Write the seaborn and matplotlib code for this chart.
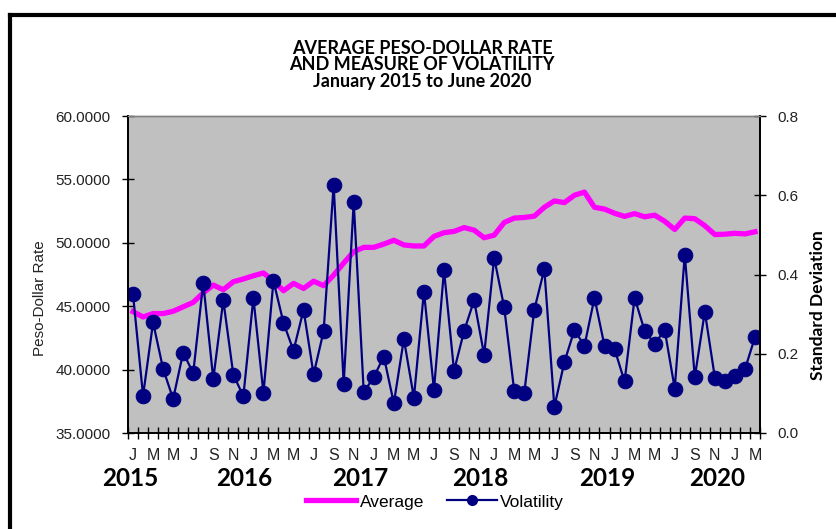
import numpy as np
import pandas as pd
import seaborn as sb
import matplotlib.pyplot as plt
from matplotlib.lines import Line2D
from matplotlib.ticker import FixedLocator, FuncFormatter

# Monthly data, January 2015 - March 2020
average = [44.57, 44.15, 44.42, 44.42, 44.60, 44.95, 45.30, 46.05, 46.67, 46.30,
           46.93, 47.15, 47.40, 47.62, 47.00, 46.22, 46.80, 46.40, 46.97, 46.62,
           47.45, 48.40, 49.30, 49.64, 49.64, 49.90, 50.20, 49.83, 49.75, 49.75,
           50.50, 50.80, 50.90, 51.20, 51.00, 50.40, 50.60, 51.60, 51.95, 52.00,
           52.10, 52.80, 53.30, 53.17, 53.75, 54.00, 52.80, 52.66, 52.33, 52.08,
           52.30, 52.05, 52.18, 51.70, 51.05, 51.95, 51.90, 51.35, 50.65, 50.68,
           50.75, 50.70, 50.87]
volatility = [0.350, 0.094, 0.279, 0.162, 0.086, 0.203, 0.151, 0.379, 0.136, 0.335,
              0.147, 0.093, 0.341, 0.101, 0.384, 0.278, 0.208, 0.311, 0.148, 0.257,
              0.626, 0.124, 0.583, 0.103, 0.141, 0.193, 0.075, 0.237, 0.089, 0.357,
              0.109, 0.411, 0.157, 0.257, 0.335, 0.197, 0.442, 0.317, 0.106, 0.101,
              0.311, 0.413, 0.066, 0.179, 0.260, 0.220, 0.341, 0.220, 0.212, 0.130,
              0.341, 0.258, 0.225, 0.260, 0.112, 0.450, 0.141, 0.306, 0.140, 0.132,
              0.143, 0.161, 0.242]
month_initials = ["J", "F", "M", "A", "M", "J", "J", "A", "S", "O", "N", "D"]
years = ["2015", "2016", "2017", "2018", "2019", "2020"]
title_lines = ["AVERAGE PESO-DOLLAR RATE", "AND MEASURE OF VOLATILITY",
               "January 2015 to June 2020"]

NARROW = ["Liberation Sans Narrow", "Liberation Sans", "DejaVu Sans"]
BOLD = ["Lato", "DejaVu Sans"]
plt.rcParams['font.family'] = ["Liberation Sans", "DejaVu Sans"]

df = pd.DataFrame({"month": np.arange(len(average)), "Average": average,
                   "Volatility": volatility})
labels = [month_initials[m % 12] if m % 2 == 0 else "" for m in df["month"]]

fig = plt.figure(figsize=(8.36, 5.29), dpi=100)
ax = fig.add_axes([128 / 836, 1 - 433 / 529, 632 / 836, 317 / 529])
ax.set_facecolor("#C0C0C0")
ax2 = ax.twinx()

sb.lineplot(data=df, x="month", y="Average", ax=ax, color="#FF00FF", lw=3.8,
            legend=False)
sb.lineplot(data=df, x="month", y="Volatility", ax=ax2, color="#000080", lw=1.6,
            marker="o", markersize=10.5, markeredgecolor="#000080", legend=False)

n = len(average)
ax.set_xlim(-0.5, n - 0.5)
ax.set_ylim(35, 60)
ax2.set_ylim(0, 0.8)
ax.set_yticks(np.arange(35, 60.1, 5))
ax.yaxis.set_major_formatter(FuncFormatter(lambda v, p: f"{v:.4f}"))
ax2.set_yticks(np.arange(0, 0.81, 0.2))
ax2.yaxis.set_major_formatter(FuncFormatter(lambda v, p: f"{v:.1f}"))

ax.xaxis.set_major_locator(FixedLocator(df["month"].tolist()))
ax.set_xticklabels(labels, family=NARROW, fontsize=11.5, color="#222222")
ax.xaxis.set_minor_locator(FixedLocator(np.arange(-0.5, n, 1.0)))
ax.tick_params(axis="x", which="major", length=0, pad=11)
ax.tick_params(axis="x", which="minor", direction="inout", length=9, width=1,
               color="black")
ax.tick_params(axis="y", direction="inout", length=9, width=1, pad=8,
               labelsize=11, labelcolor="#222222")
ax2.tick_params(axis="y", direction="inout", length=9, width=1, pad=8,
                labelsize=11, labelcolor="#222222")
ax.set_xlabel("")
ax.set_ylabel("")
ax2.set_ylabel("")
ax.grid(False)
ax2.grid(False)

for a in (ax, ax2):
    for s in a.spines.values():
        s.set_linewidth(1.3)
        s.set_color("black")
    a.spines["top"].set_color("#808080")
    a.spines["top"].set_linewidth(1)

# titles and axis captions
for i, line in enumerate(title_lines):
    fig.text(422 / 836, 1 - (48 + 17 * i) / 529, line, ha="center", va="center",
             fontsize=13, fontweight="bold", family=BOLD)
fig.text(40 / 836, 1 - 298 / 529, "Peso-Dollar Rate", rotation=90, ha="center",
         va="center", fontsize=11, color="#222222")
fig.text(818 / 836, 1 - 305 / 529, "Standard Deviation", rotation=90,
         ha="center", va="center", fontsize=12.5, fontweight="bold", family=BOLD)

year_x = [130, 244, 360, 480, 607, 717]
for yr, xp in zip(years, year_x):
    fig.text(xp / 836, 1 - 478 / 529, yr, ha="center", va="center",
             fontsize=17.5, fontweight="bold", family=BOLD)

handles = [Line2D([], [], color="#FF00FF", lw=3.8),
           Line2D([], [], color="#000080", lw=1.6, marker="o", markersize=7)]
fig.legend(handles, ["Average", "Volatility"], loc="center",
           bbox_to_anchor=(435 / 836, 1 - 502 / 529), ncol=2, frameon=False,
           handlelength=2.9, handletextpad=0.2, columnspacing=1.3,
           prop={"family": NARROW, "size": 12.5})

# outer frame
fig.add_artist(Line2D([10 / 836, 10 / 836], [0, 1 - 15 / 529], color="black",
                      lw=3, transform=fig.transFigure))
fig.add_artist(Line2D([10 / 836, 1], [1 - 15 / 529, 1 - 15 / 529], color="black",
                      lw=3, transform=fig.transFigure))

fig.savefig("out.png", dpi=100)
